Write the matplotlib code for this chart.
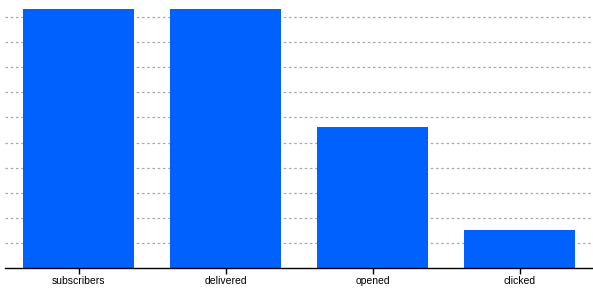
import matplotlib.pyplot as plt
import numpy as np

categories = ['subscribers', 'delivered', 'opened', 'clicked']
values = [1032, 1032, 562, 150]
grid_levels = [100, 200, 300, 400, 500, 600, 700, 800, 900, 1000]

plt.rcParams['font.family'] = ['Liberation Sans', 'DejaVu Sans']

fig = plt.figure(figsize=(5.93, 2.94), dpi=100)
ax = fig.add_axes([5 / 593, 26 / 294, 588 / 593, 259 / 294])

x = np.arange(len(categories))
ax.bar(x, values, width=0.755, color='#0061ff', zorder=2)

for g in grid_levels:
    ax.axhline(g, color='#a8a8a8', linestyle=(0, (2, 2.2)), linewidth=0.9, zorder=1)

ax.set_xlim(-0.5, len(categories) - 0.5)
ax.set_ylim(0, max(values))
ax.set_xticks(x)
ax.set_xticklabels(categories, fontsize=7.5)
ax.tick_params(axis='x', length=4, width=1, pad=2, color='black')
ax.set_yticks([])

for side in ['top', 'right', 'left']:
    ax.spines[side].set_visible(False)
ax.spines['bottom'].set_linewidth(1)

fig.savefig('out.png', dpi=100)
